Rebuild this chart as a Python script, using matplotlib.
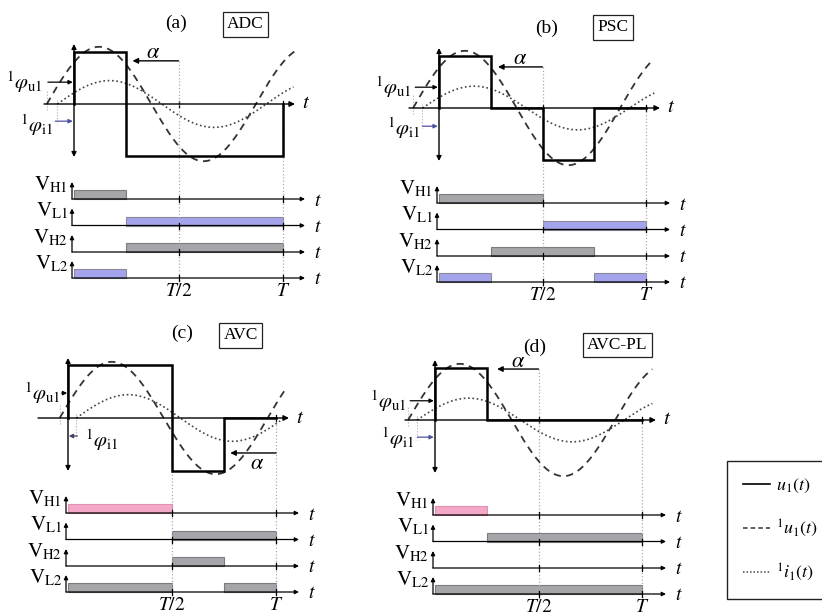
import matplotlib
matplotlib.use('Agg')
import matplotlib.pyplot as plt, numpy as np
from matplotlib.lines import Line2D
from matplotlib.patches import Rectangle

plt.rcParams['font.family'] = ['Liberation Serif', 'DejaVu Serif']
plt.rcParams['mathtext.fontset'] = 'stix'

W, H = 822, 616

# ---- data (time in periods T, values in units of the square-wave height) ----
titles = ['(a)', '(b)', '(c)', '(d)']
modes = ['ADC', 'PSC', 'AVC', 'AVC-PL']

sq_edges = [[0, 0.25, 1], [0, 0.25, 0.5, 0.75, 1], [0, 0.5, 0.75, 1], [0, 0.25, 1]]
sq_levels = [[1, -1], [1, 0, -1, 0], [1, -1, 0], [1, 0]]

u1_amp = [1.1, 1.1, 1.06, 1.08]
u1_zero = [-0.13, -0.125, -0.04, -0.13]
u1_end = [1.06, 1.03, 1.05, 1.05]
i1_amp = [0.45, 0.42, 0.44, 0.42]
i1_zero = [-0.08, -0.08, 0.04, -0.087]
i1_end = [1.05, 1.04, 1.02, 1.05]

gate_names = ['H1', 'L1', 'H2', 'L2']
gates = [
    [[(0, .25, 'g')], [(.25, 1, 'b')], [(.25, 1, 'g')], [(0, .25, 'b')]],
    [[(0, .5, 'g')], [(.5, 1, 'b')], [(.25, .75, 'g')], [(0, .25, 'b'), (.75, 1, 'b')]],
    [[(0, .5, 'p')], [(.5, 1, 'g')], [(.5, .75, 'g')], [(0, .5, 'g'), (.75, 1, 'g')]],
    [[(0, .25, 'p')], [(.25, 1, 'g')], [], [(0, 1, 'g')]],
]
alpha_from = [0.5, 0.5, 1.0, 0.5]
alpha_to = [0.28, 0.285, 0.78, 0.30]

# ---- layout (pixels) ----
x0s = [74, 439, 68, 435]
y0s = [104, 108, 418, 420]
periods = [209, 207, 208, 207]
amps = [52, 52, 53, 52]
alpha_y = [0.83, 0.79, -0.66, 0.98]
alpha_lbl = [(0.38, 0.98), (0.39, 0.93), (0.91, -0.87), (0.40, 1.10)]
title_pos = [(0.49, 1.56), (0.52, 1.54), (0.55, 1.60), (0.48, 1.40)]
box_pos = [(0.82, 1.53), (0.84, 1.55), (0.83, 1.56), (0.88, 1.44)]
phu_lbl = [(-0.15, 0.42), (-0.13, 0.40), (-0.035, 0.47), (-0.135, 0.37)]
phu_arrow = [(-0.125, 0.42), (-0.115, 0.40), (-0.03, 0.47), (-0.12, 0.37)]
phi_lbl = [(-0.10, -0.40), (-0.09, -0.38), (0.08, -0.42), (-0.10, -0.35)]
phi_arrow = [(-0.09, -0.33), (-0.08, -0.35), (0.045, -0.34), (-0.085, -0.33)]
row_px = [95, 121.5, 148, 174]
bar_px = 9

bar_fc = {'g': '#a6a6aa', 'b': '#a4a4ec', 'p': '#f4a8c8'}
bar_ec = {'g': '#7c7c80', 'b': '#8a8a9c', 'p': '#e290b4'}
guide_c = '#b4a4bc'

fig = plt.figure(figsize=(W / 100, H / 100), dpi=100)


def arrow(ax, start, end, color='k', lw=0.9, ms=8, style='-|>'):
    ax.annotate('', xy=end, xytext=start,
                arrowprops=dict(arrowstyle=style, lw=lw, color=color, mutation_scale=ms,
                                shrinkA=0, shrinkB=0))


for k in range(4):
    x0, y0, P, A = x0s[k], y0s[k], periods[k], amps[k]
    ax = fig.add_axes([(x0 - 80) / W, 1 - (y0 + 205) / H, 335 / W, 305 / H])
    ax.set_xlim(-80 / P, 255 / P)
    ax.set_ylim(-205 / A, 100 / A)
    ax.axis('off')
    px = lambda v: v / P
    py = lambda v: v / A

    # waveform axes
    arrow(ax, (px(-30), 0), (px(221), 0), lw=1.0)
    ax.text(px(232), 0, '$t$', fontsize=15, ha='center', va='center')
    arrow(ax, (0, py(-53)), (0, py(60)), lw=1.0, ms=7, style='<|-|>')
    for tt in (0.5, 1.0):
        ax.plot([tt, tt], [py(-3), py(3)], color='k', lw=0.9)

    # guides at T/2 and T
    top_half = alpha_y[k] if alpha_from[k] == 0.5 else 0
    ax.plot([0.5, 0.5], [top_half, py(-184)], ls=':', color=guide_c, lw=0.9)
    ax.plot([1.0, 1.0], [0, py(-184)], ls=':', color=guide_c, lw=0.9)
    ax.plot([u1_zero[k]] * 2, [py(-6), py(14)], ls=':', color=guide_c, lw=0.8)
    ax.plot([i1_zero[k]] * 2, [py(4), py(-20)], ls=':', color=guide_c, lw=0.8)

    # fundamentals
    t = np.linspace(u1_zero[k], u1_end[k], 400)
    ax.plot(t, u1_amp[k] * np.sin(2 * np.pi * (t - u1_zero[k])), color='#333333', lw=1.3,
            dashes=(4, 3))
    t = np.linspace(i1_zero[k], i1_end[k], 400)
    ax.plot(t, i1_amp[k] * np.sin(2 * np.pi * (t - i1_zero[k])), color='#444444', lw=1.2,
            dashes=(1, 1.6))

    # square wave u1(t)
    e, lv = sq_edges[k], sq_levels[k]
    xs, ys = [e[0]], [0]
    for j, l in enumerate(lv):
        xs += [e[j], e[j + 1]]
        ys += [l, l]
    xs.append(e[-1])
    ys.append(0)
    ax.plot(xs, ys, color='k', lw=1.8, solid_joinstyle='miter')

    # alpha
    arrow(ax, (alpha_from[k], alpha_y[k]), (alpha_to[k], alpha_y[k]), lw=1.0)
    ax.text(*alpha_lbl[k], r'$\alpha$', fontsize=16, ha='center', va='center')

    # phase labels
    ax.text(*phu_lbl[k], r'${}^{1}\varphi_{\mathrm{u1}}$', fontsize=15, ha='right', va='center')
    if k == 2:
        arrow(ax, (phu_arrow[k][0], phu_arrow[k][1]), (-0.004, phu_arrow[k][1]), lw=0.9, ms=6)
        arrow(ax, (phi_arrow[k][0], phi_arrow[k][1]), (0.004, phi_arrow[k][1]), lw=0.9, ms=6,
              color='#404060')
        ax.text(*phi_lbl[k], r'${}^{1}\varphi_{\mathrm{i1}}$', fontsize=15, ha='left', va='center')
    else:
        arrow(ax, phu_arrow[k], (-0.006, phu_arrow[k][1]), lw=0.9, ms=6)
        arrow(ax, phi_arrow[k], (-0.006, phi_arrow[k][1]), lw=0.9, ms=6, color='#5050a0')
        ax.text(*phi_lbl[k], r'${}^{1}\varphi_{\mathrm{i1}}$', fontsize=15, ha='right', va='center')

    # titles
    ax.text(*title_pos[k], titles[k], fontsize=14, ha='center', va='center')
    ax.text(*box_pos[k], modes[k], fontsize=12.5, ha='center', va='center',
            bbox=dict(boxstyle='square,pad=0.25', fc='white', ec='#222222', lw=0.9))

    # gate signals
    for r, name in enumerate(gate_names):
        base = py(-row_px[r])
        arrow(ax, (px(-2), base), (px(231), base), lw=0.9, ms=6)
        arrow(ax, (px(-2), base), (px(-2), base + py(17)), lw=0.9, ms=6)
        ax.text(px(244), base - py(2), '$t$', fontsize=14, ha='center', va='center')
        for tt in (0.5, 1.0):
            ax.plot([tt, tt], [base - py(3), base + py(3)], color='k', lw=0.9)
        for s, e2, c in gates[k][r]:
            ax.add_patch(Rectangle((s, base), e2 - s, py(bar_px), fc=bar_fc[c], ec=bar_ec[c],
                                   lw=0.8))
        ax.text(px(-6), base + py(9), r'$\mathrm{V}_{\mathrm{%s}}$' % name, fontsize=15,
                ha='right', va='baseline')

    ax.text(0.5, py(-188), '$T/2$', fontsize=14, ha='center', va='center')
    ax.text(1.0, py(-188), '$T$', fontsize=14, ha='center', va='center')

# legend
handles = [Line2D([], [], color='k', lw=1.2),
           Line2D([], [], color='#333333', lw=1.1, dashes=(3, 2)),
           Line2D([], [], color='#444444', lw=1.1, dashes=(1, 1.3))]
labels = ['$u_1(t)$', '${}^{1}u_1(t)$', '${}^{1}i_1(t)$']
fig.legend(handles, labels, loc='upper left', bbox_to_anchor=(727 / W, 1 - 461 / H),
           fontsize=13, frameon=True, fancybox=False, edgecolor='#222222', framealpha=1,
           handlelength=1.5, handletextpad=0.3, labelspacing=1.25, borderpad=0.9,
           borderaxespad=0)

fig.savefig('out.png', dpi=100)
